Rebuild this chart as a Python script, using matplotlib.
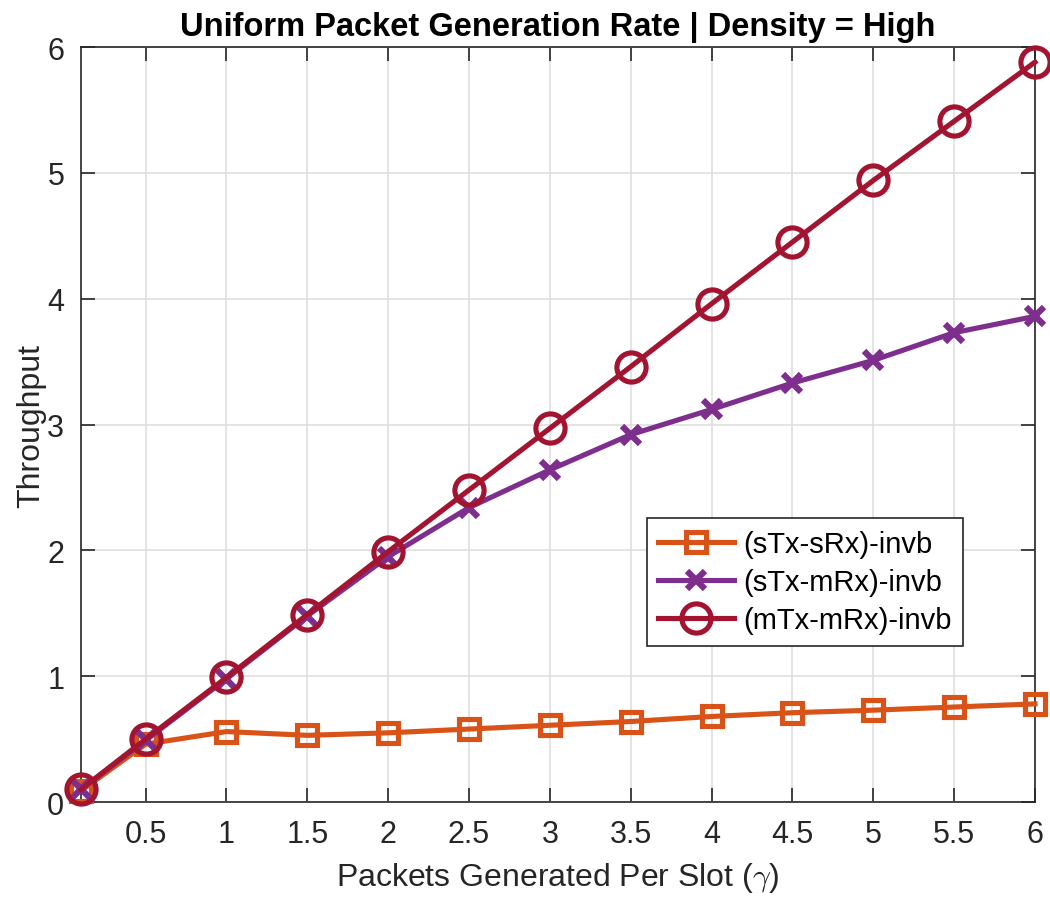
import matplotlib
matplotlib.use("Agg")
import matplotlib.pyplot as plt

plt.rcParams["font.family"] = ["Liberation Sans", "DejaVu Sans"]
plt.rcParams["mathtext.fontset"] = "cm"

# packets generated per slot (gamma)
gamma = [0.1, 0.5, 1, 1.5, 2, 2.5, 3, 3.5, 4, 4.5, 5, 5.5, 6]

# throughput
s_tx_s_rx = [0.09, 0.46, 0.56, 0.53, 0.55, 0.58, 0.61, 0.64, 0.68, 0.71, 0.73, 0.755, 0.78]
s_tx_m_rx = [0.10, 0.49, 0.98, 1.48, 1.95, 2.34, 2.64, 2.92, 3.12, 3.33, 3.51, 3.73, 3.86]
m_tx_m_rx = [0.10, 0.50, 0.99, 1.49, 1.99, 2.48, 2.97, 3.46, 3.96, 4.45, 4.94, 5.41, 5.88]

labels = ["(sTx-sRx)-invb", "(sTx-mRx)-invb", "(mTx-mRx)-invb"]
xticks = [0.5, 1, 1.5, 2, 2.5, 3, 3.5, 4, 4.5, 5, 5.5, 6]
yticks = [0, 1, 2, 3, 4, 5, 6]

fig = plt.figure(figsize=(10.5, 9.03), dpi=100)
ax = fig.add_axes([0.0771, 0.1107, 0.9086, 0.8361])

ax.plot(gamma, s_tx_s_rx, color="#D95319", lw=3.7, marker="s", ms=15,
        mfc="none", mew=3.7, label=labels[0], clip_on=False, zorder=3)
ax.plot(gamma, s_tx_m_rx, color="#7E2F8E", lw=3.7, marker="x", ms=13,
        mew=4.5, label=labels[1], clip_on=False, zorder=4)
ax.plot(gamma, m_tx_m_rx, color="#A2142F", lw=3.7, marker="o", ms=21,
        mfc="none", mew=3.7, label=labels[2], clip_on=False, zorder=5)

ax.set_xlim(0.1, 6)
ax.set_ylim(0, 6)
ax.set_xticks(xticks)
ax.set_xticklabels([f"{t:g}" for t in xticks])
ax.set_yticks(yticks)

ax.grid(True, color="#DFDFDF", lw=1.2)
ax.set_axisbelow(True)
for sp in ax.spines.values():
    sp.set_color("#262626")
    sp.set_linewidth(1.2)
ax.tick_params(direction="in", top=True, right=True, length=10, width=1.2,
               colors="#262626", labelsize=22, pad=12)

ax.set_xlabel(r"Packets Generated Per Slot ($\gamma$)", fontsize=23,
              color="#262626", labelpad=8)
ax.set_ylabel("Throughput", fontsize=23, color="#262626", labelpad=1)
ax.set_title("Uniform Packet Generation Rate | Density = High",
             fontsize=23.5, fontweight="bold", pad=9)

leg = ax.legend(loc="upper left", bbox_to_anchor=(0.593, 0.376), fontsize=21,
                frameon=True, fancybox=False, edgecolor="#262626",
                framealpha=1, handlelength=2.6, borderpad=0.4,
                labelspacing=0.35, handletextpad=0.3, borderaxespad=0)
leg.get_frame().set_linewidth(1.2)

fig.savefig("out.png", dpi=100)
